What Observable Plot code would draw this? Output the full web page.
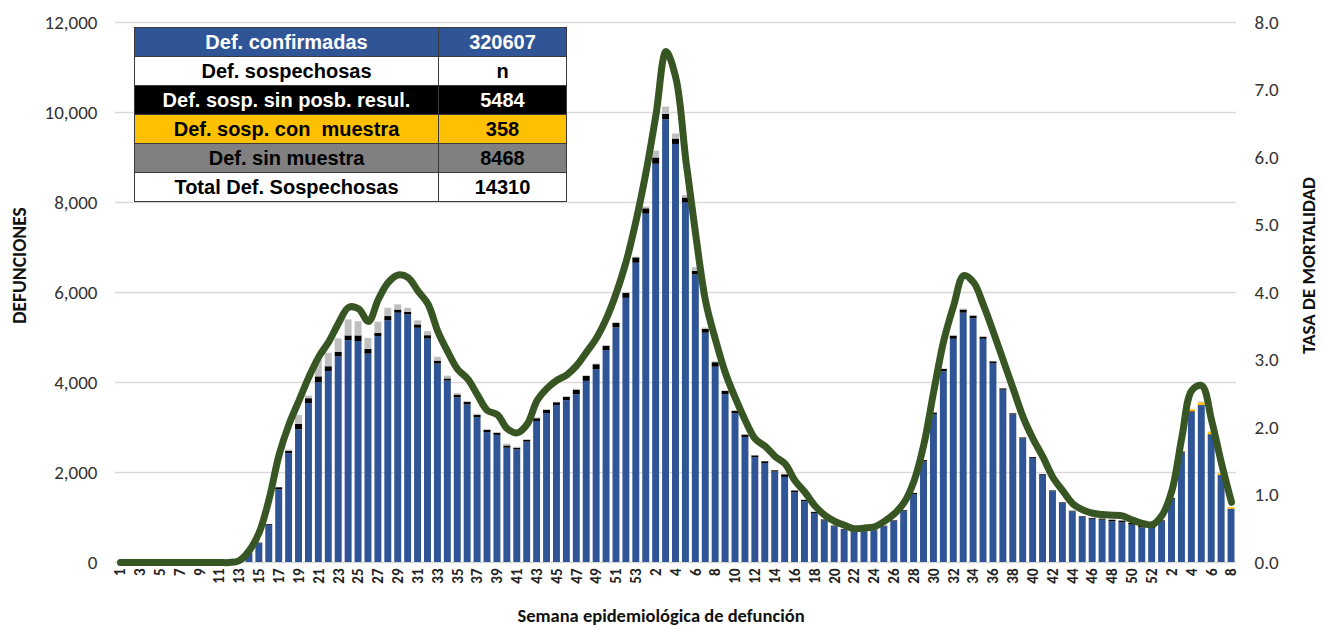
<!DOCTYPE html>
<html>
<head>
<meta charset="utf-8">
<script src="https://cdn.jsdelivr.net/npm/d3@7"></script>
<script src="https://cdn.jsdelivr.net/npm/@observablehq/plot@0.6"></script>
<style>
  body { margin: 0; background: #fff; }
  #wrap { position: relative; width: 1324px; height: 629px; overflow: hidden; }
  #tbl { position: absolute; left: 134px; top: 27px; border-collapse: collapse;
         font-family: "Liberation Sans", Arial, sans-serif; font-weight: bold; font-size: 20px; }
  #tbl td { border: 1px solid #3a3a3a; height: 28px; padding: 0; text-align: center; white-space: pre; line-height: 28px; }
</style>
</head>
<body>
<div id="wrap"></div>
<script>
// ---------- data ----------
const yearWeeks = [53, 52, 8];               // weeks shown for 2020, 2021, 2022
const confirmadas2020 = [0,0,0,0,0,0,0,0,0,0,0,0,20,200,420,820,1620,2420,2950,3530,3990,4240,4570,4930,4910,4630,5020,5370,5540,5500,5205,4965,4410,4030,3660,3500,3220,2885,2825,2540,2500,2675,3135,3310,3490,3595,3730,4025,4285,4710,5215,5870,6650];
const confirmadas2021 = [7740,8850,9840,9290,7990,6390,5095,4340,3730,3310,2780,2330,2200,2010,1890,1550,1350,1090,925,795,720,670,670,705,795,910,1130,1510,2235,3280,4240,4960,5540,5420,4960,4420,3830,3280,2750,2310,1940,1575,1310,1125,1000,960,940,905,880,830,770,755];
const confirmadas2022 = [905,1400,2430,3330,3480,2830,1930,1180];

const sinPosib2020 = [0,0,0,0,0,0,0,0,0,0,0,0,0,0,10,20,40,50,120,110,135,110,100,105,125,105,70,95,70,60,75,75,65,50,60,55,50,50,45,50,40,40,60,70,60,75,100,110,110,95,100,110,120];
const sinPosib2021 = [120,140,120,120,110,80,85,100,70,50,50,40,40,30,60,40,30,25,20,15,15,12,12,12,12,15,20,25,30,40,50,70,70,55,45,40,30,25,20,20,15,15,15,15,15,20,25,35,40,40,35,30];
const sinPosib2022 = [20,20,25,20,15,10,5,5];

const conMuestra2020 = new Array(53).fill(0);
const conMuestra2021 = new Array(52).fill(0);
const conMuestra2022 = [0,5,15,45,55,50,40,35];

const sinMuestra2020 = [0,0,0,0,0,0,0,0,0,0,0,0,0,0,0,0,0,30,200,60,375,300,300,355,315,245,250,185,115,90,90,90,85,60,35,20,25,25,20,40,20,15,20,15,10,15,20,15,15,10,10,10,15];
const sinMuestra2021 = [40,150,160,110,55,80,30,20,15,10,10,10,5,5,5,5,5,0,0,0,0,0,0,0,0,0,0,5,5,5,10,15,20,15,10,10,5,5,5,0,0,0,0,0,0,0,0,0,0,0,0,0];
const sinMuestra2022 = [0,0,0,10,15,10,5,0];

const tasa2020 = [0,0,0,0,0,0,0,0,0,0,0,0,0.03,0.18,0.45,0.95,1.6,2.05,2.4,2.75,3.05,3.27,3.55,3.78,3.76,3.57,3.9,4.15,4.26,4.22,4.02,3.83,3.42,3.12,2.86,2.72,2.48,2.25,2.19,1.98,1.92,2.05,2.4,2.58,2.7,2.78,2.92,3.12,3.33,3.62,4.0,4.47,5.08];
const tasa2021 = [5.8,6.65,7.57,7.17,5.95,4.84,3.86,3.29,2.8,2.43,2.1,1.83,1.72,1.57,1.46,1.21,1.04,0.84,0.7,0.61,0.55,0.5,0.51,0.53,0.61,0.72,0.89,1.21,1.76,2.55,3.29,3.81,4.25,4.15,3.81,3.41,2.99,2.57,2.15,1.83,1.56,1.26,1.06,0.87,0.78,0.73,0.71,0.7,0.69,0.63,0.58,0.56];
const tasa2022 = [0.7,1.07,1.86,2.55,2.62,2.1,1.46,0.89];

const seriesNames = ["Def. confirmadas", "Def. sosp. sin posb. resul.", "Def. sosp. con  muestra", "Def. sin muestra"];
const seriesColors = ["#2F5597", "#000000", "#FFC000", "#BFBFBF"];

const tableLabels = ["Def. confirmadas", "Def. sospechosas", "Def. sosp. sin posb. resul.", "Def. sosp. con  muestra", "Def. sin muestra", "Total Def. Sospechosas"];
const tableValues = ["320607", "n", "5484", "358", "8468", "14310"];
const tableFills = ["#2F5597", "#FFFFFF", "#000000", "#FFC000", "#808080", "#FFFFFF"];
const tableInk = ["#FFFFFF", "#000000", "#FFFFFF", "#000000", "#000000", "#000000"];

const yLeftTicks = [0, 2000, 4000, 6000, 8000, 10000, 12000];
const yRightTicks = [0, 1, 2, 3, 4, 5, 6, 7, 8];
const yMax = 12000, tasaMax = 8;
const xTitle = "Semana epidemiológica de defunción";
const yLeftTitle = "DEFUNCIONES";
const yRightTitle = "TASA DE MORTALIDAD";

// ---------- build tables ----------
const weekLabel = yearWeeks.flatMap(n => d3.range(1, n + 1));
const confirmadas = [...confirmadas2020, ...confirmadas2021, ...confirmadas2022];
const sinPosib = [...sinPosib2020, ...sinPosib2021, ...sinPosib2022];
const conMuestra = [...conMuestra2020, ...conMuestra2021, ...conMuestra2022];
const sinMuestra = [...sinMuestra2020, ...sinMuestra2021, ...sinMuestra2022];
const tasa = [...tasa2020, ...tasa2021, ...tasa2022];
const N = weekLabel.length;
const idx = d3.range(N);
const k = yMax / tasaMax;

const allSeries = [confirmadas, sinPosib, conMuestra, sinMuestra];
const long = [];
allSeries.forEach((arr, s) => idx.forEach(i => long.push({i, serie: seriesNames[s], value: arr[i]})));
const lineRows = idx.map(i => ({i, tasa: tasa[i]}));

const font = "Calibri, Carlito, Lato, sans-serif";

const chart = Plot.plot({
  width: 1324, height: 629,
  marginLeft: 115, marginRight: 88, marginTop: 22, marginBottom: 67,
  style: {fontFamily: font, background: "#fff", color: "#222"},
  x: {type: "band", domain: idx, paddingInner: 0.3, paddingOuter: 0.15, axis: null},
  y: {domain: [0, yMax], axis: null},
  color: {type: "ordinal", domain: seriesNames, range: seriesColors},
  marks: [
    Plot.gridY(yLeftTicks, {stroke: "#d9d9d9", strokeOpacity: 1, strokeWidth: 1.4}),
    Plot.barY(long, {x: "i", y: "value", fill: "serie", order: seriesNames}),
    Plot.line(lineRows, {x: "i", y: d => d.tasa * k, stroke: "#375623", strokeWidth: 7, curve: "catmull-rom", strokeLinejoin: "round", strokeLinecap: "round"}),
    Plot.axisX({ticks: idx.filter(i => i % 2 === 0), tickFormat: i => weekLabel[i], tickRotate: -90, tickSize: 0, tickPadding: 6, fontWeight: "bold", fontSize: 15, fill: "#222", label: null}),
    Plot.axisY({anchor: "left", ticks: yLeftTicks, tickFormat: d3.format(","), tickSize: 0, tickPadding: 18, fontSize: 19, fill: "#333", label: null}),
    Plot.axisY({anchor: "right", ticks: yRightTicks.map(t => t * k), tickFormat: d => (d / k).toFixed(1), tickSize: 0, tickPadding: 18, fontSize: 19, fill: "#333", label: null}),
    Plot.text([xTitle], {text: d => d, frameAnchor: "bottom", textAnchor: "middle", dy: 59, dx: -15, fontWeight: "bold", fontSize: 18.5, fill: "#111"}),
    Plot.text([yLeftTitle], {text: d => d, frameAnchor: "left", textAnchor: "middle", dx: -96, dy: -27, rotate: -90, fontWeight: "bold", fontSize: 19.5, fill: "#111"}),
    Plot.text([yRightTitle], {text: d => d, frameAnchor: "right", textAnchor: "middle", dx: 72, dy: -27, rotate: -90, fontWeight: "bold", fontSize: 19, fill: "#111"})
  ]
});

const wrap = document.getElementById("wrap");
wrap.appendChild(chart);

// summary table overlay
const tbl = document.createElement("table");
tbl.id = "tbl";
tableLabels.forEach((lab, r) => {
  const tr = document.createElement("tr");
  const a = document.createElement("td");
  a.textContent = lab; a.style.width = "303px";
  const b = document.createElement("td");
  b.textContent = tableValues[r]; b.style.width = "127px";
  [a, b].forEach(td => { td.style.background = tableFills[r]; td.style.color = tableInk[r]; });
  tr.append(a, b);
  tbl.appendChild(tr);
});
wrap.appendChild(tbl);
</script>
</body>
</html>
